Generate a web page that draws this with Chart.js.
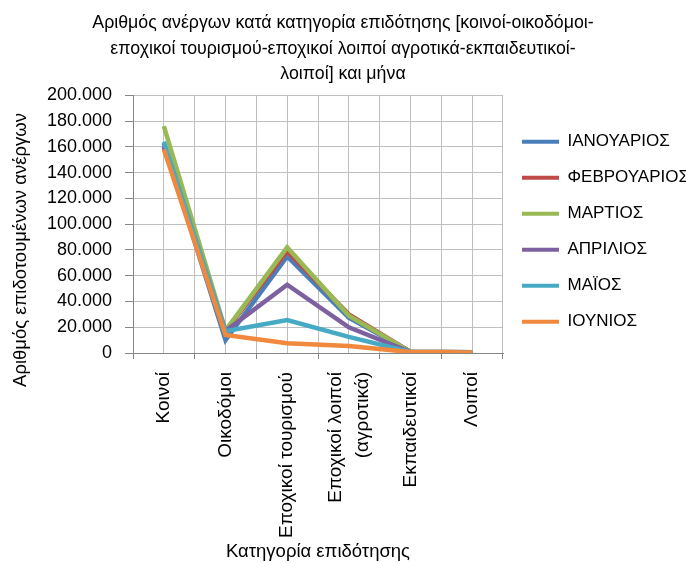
<!DOCTYPE html>
<html>
<head>
<meta charset="utf-8">
<script src="https://cdn.jsdelivr.net/npm/chart.js@4/dist/chart.umd.min.js"></script>
<style>
html,body{margin:0;padding:0;background:#fff;}
#wrap{width:686px;height:563px;}
</style>
</head>
<body>
<div id="wrap"><canvas id="c" width="686" height="563"></canvas></div>
<script>
const titleLines = ["Αριθμός ανέργων κατά κατηγορία επιδότησης [κοινοί-οικοδόμοι-","εποχικοί τουρισμού-εποχικοί λοιποί αγροτικά-εκπαιδευτικοί-","λοιποί] και μήνα"];
const xTitle = "Κατηγορία επιδότησης";
const yTitle = "Αριθμός επιδοτουμένων ανέργων";
const categories = ["Κοινοί","Οικοδόμοι","Εποχικοί τουρισμού",["Εποχικοί λοιποί","(αγροτικά)"],"Εκπαιδευτικοί","Λοιποί"];
const months = ["ΙΑΝΟΥΑΡΙΟΣ","ΦΕΒΡΟΥΑΡΙΟΣ","ΜΑΡΤΙΟΣ","ΑΠΡΙΛΙΟΣ","ΜΑΪΟΣ","ΙΟΥΝΙΟΣ"];
const ianouarios  = [162500, 10000, 75000, 27500, 900, 500];
const fevrouarios = [160000, 17000, 79000, 30000, 900, 500];
const martios     = [176000, 17500, 82000, 29000, 900, 500];
const aprilios    = [160000, 17000, 53000, 20000, 800, 500];
const maios       = [164000, 17000, 25500, 12500, 800, 500];
const iounios     = [158000, 14000, 7500, 5500, 700, 400];
const seriesValues = [ianouarios, fevrouarios, martios, aprilios, maios, iounios];
const colors = ["#4A7EBB","#BE4B48","#98B954","#7D60A0","#46AAC5","#F0883E"];
const yMin = 0, yMax = 200000, yStep = 20000;

const FONT = "'Liberation Sans', Arial, sans-serif";
const GRID = '#bfbfbf';
const AXIS = '#868686';

const datasets = months.map((m, i) => ({
  label: m,
  data: seriesValues[i],
  borderColor: colors[i],
  backgroundColor: colors[i],
  borderWidth: 4.5,
  pointRadius: 0,
  tension: 0,
  fill: false,
  order: months.length - i,
  xAxisID: 'x'
}));

// y-axis title, drawn as text at the reference position
const yTitlePlugin = {
  id: 'yTitle',
  afterDraw(chart) {
    const ctx = chart.ctx;
    ctx.save();
    ctx.translate(21, 250);
    ctx.rotate(-Math.PI / 2);
    ctx.font = "18.5px " + FONT;
    ctx.fillStyle = '#000';
    ctx.textAlign = 'center';
    ctx.textBaseline = 'middle';
    ctx.fillText(yTitle, 0, 0);
    ctx.restore();
  }
};

// center multi-line rotated category labels on their tick
const centerMultiLine = {
  id: 'centerMultiLine',
  beforeDraw(chart) {
    const s = chart.scales.x;
    const items = s.getLabelItems(chart.chartArea);
    items.forEach(it => {
      if (Array.isArray(it.label) && it.label.length > 1) {
        const lh = it.font.lineHeight;
        it.options.translation[0] -= (it.label.length - 1) * lh / 2;
      }
    });
  }
};

new Chart(document.getElementById('c'), {
  type: 'line',
  data: { labels: categories, datasets },
  options: {
    responsive: false,
    animation: false,
    layout: { padding: { left: 0, right: 0, top: 0, bottom: 0 } },
    plugins: {
      title: {
        display: true,
        text: titleLines,
        color: '#000',
        font: { family: FONT, size: 17.8, weight: 'normal', lineHeight: 1.41 },
        padding: { top: 11, bottom: 9 }
      },
      legend: {
        position: 'right',
        fullSize: false,
        maxWidth: 183,
        title: { display: true, text: ' ', font: { family: FONT, size: 12.5 }, padding: 0 },
        labels: {
          color: '#000',
          font: { family: FONT, size: 17 },
          boxWidth: 37,
          boxHeight: 4,
          padding: 19,
          generateLabels(chart) {
            return chart.data.datasets.map((d, i) => ({
              text: d.label,
              fillStyle: d.borderColor,
              strokeStyle: d.borderColor,
              lineWidth: 0,
              hidden: false,
              datasetIndex: i,
              fontColor: '#000'
            }));
          }
        }
      },
      tooltip: { enabled: false }
    },
    scales: {
      x: {
        type: 'category',
        offset: true,
        afterFit(s) { s.height = 210; },
        grid: { color: GRID, lineWidth: 1, offset: true, drawTicks: true, tickLength: 6, tickColor: AXIS },
        border: { color: AXIS, width: 1 },
        ticks: {
          color: '#000',
          font: { family: FONT, size: 19, lineHeight: 1.42 },
          autoSkip: false,
          maxRotation: 90,
          minRotation: 90,
          padding: 13
        },
        title: {
          display: true,
          text: xTitle,
          color: '#000',
          font: { family: FONT, size: 18.5 },
          padding: { top: 0, bottom: 0 }
        }
      },
      x2: {
        type: 'category',
        labels: categories,
        offset: true,
        position: 'bottom',
        display: true,
        afterFit(s) { s.height = 0; },
        grid: { color: GRID, lineWidth: 1, offset: false, drawTicks: false },
        border: { display: false },
        ticks: { display: false }
      },
      y: {
        min: yMin,
        max: yMax,
        afterFit(s) { s.width = 133; },
        grid: { color: GRID, lineWidth: 1, tickLength: 8, tickColor: AXIS },
        border: { color: AXIS, width: 1 },
        ticks: {
          stepSize: yStep,
          color: '#000',
          font: { family: FONT, size: 18 },
          padding: 13,
          callback: v => v.toLocaleString('de-DE')
        }
      }
    }
  },
  plugins: [yTitlePlugin, centerMultiLine]
});
</script>
</body>
</html>
